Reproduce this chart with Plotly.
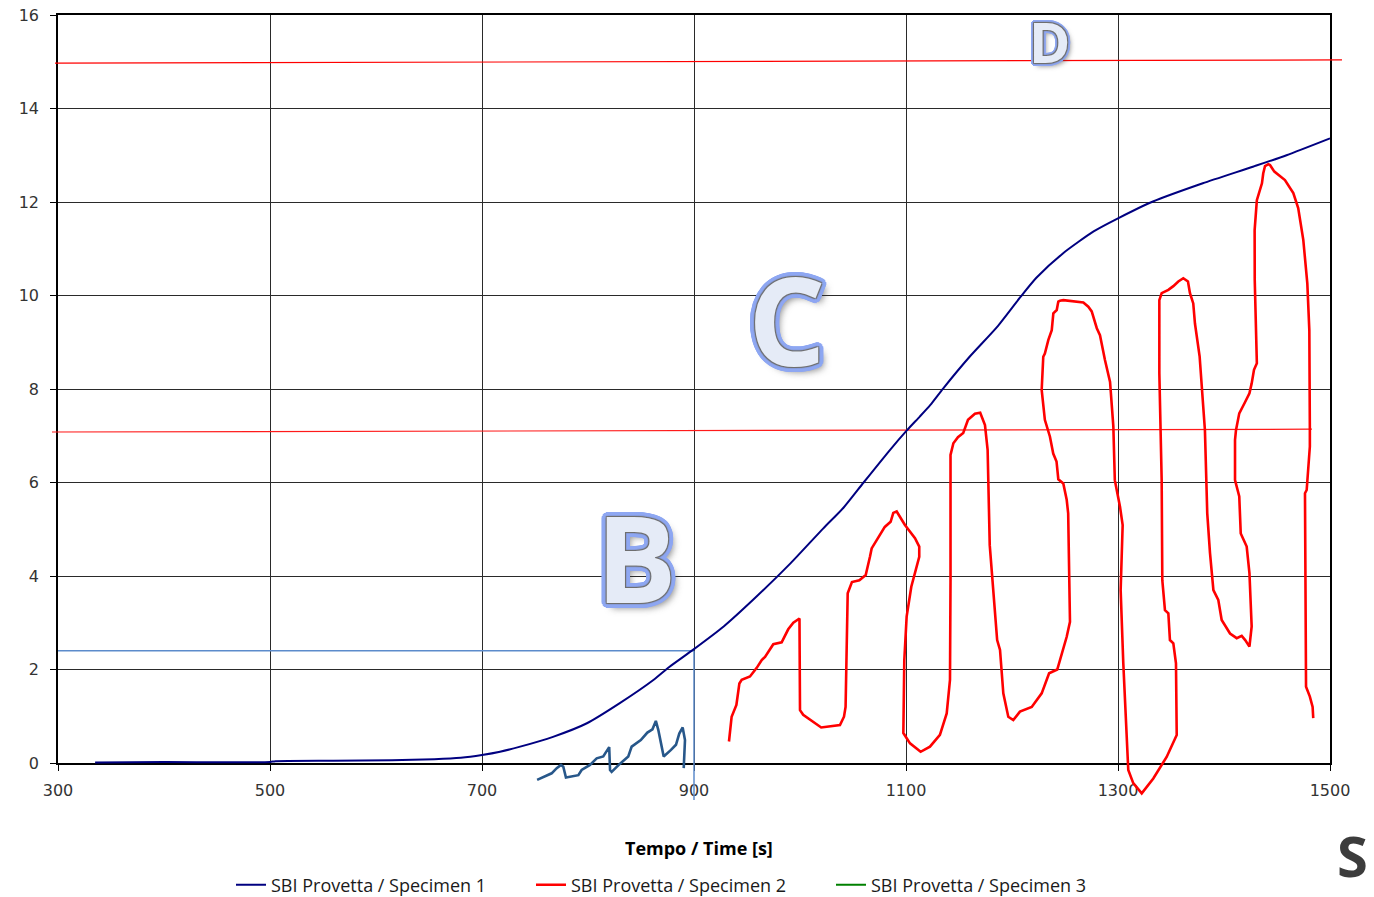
import plotly.graph_objects as go

# ---------------- data ----------------
# Specimen 1 (navy S-curve)
s1_t = [335, 400, 500, 505, 560, 615, 655, 680, 700, 717, 736, 767, 799, 830, 862, 877, 899,
        928, 959, 991, 1022, 1041, 1060, 1085, 1101, 1113, 1123, 1135, 1160, 1186, 1208, 1223,
        1248, 1277, 1300, 1333, 1380, 1428, 1459, 1500]
s1_v = [0.01, 0.02, 0.02, 0.04, 0.05, 0.06, 0.08, 0.11, 0.17, 0.24, 0.35, 0.56, 0.85, 1.28, 1.78,
        2.06, 2.42, 2.92, 3.56, 4.27, 5.02, 5.46, 6.0, 6.70, 7.12, 7.41, 7.66, 8.01, 8.69, 9.33,
        9.97, 10.38, 10.9, 11.37, 11.65, 12.01, 12.4, 12.76, 13.0, 13.36]

# Specimen 2 (red, hand-drawn looking trace)
s2_t = [933, 935.5, 940, 942.8, 945, 952.8, 959, 963.9, 967, 971.7, 974.8, 982.7, 988.9, 993.7, 999.5,
        1000, 1003, 1020, 1037.7, 1041.5, 1043, 1045, 1049, 1056, 1062, 1066, 1067.6, 1080, 1085.5,
        1088, 1090, 1091.2, 1099, 1108.5, 1112.5, 1112.5, 1105, 1100.6, 1098.4, 1098, 1097.5,
        1103.8, 1113.8, 1122.6, 1132, 1138.4, 1141.5, 1142, 1142, 1144.7, 1149, 1154, 1158.5,
        1165, 1170, 1174.5, 1177, 1179, 1182, 1186, 1188.7, 1191.8, 1196.5, 1201.2, 1207.5,
        1218.6, 1228, 1235, 1242.7, 1248.4, 1251.6, 1254.7, 1253, 1251.6, 1248.4, 1243.7, 1242,
        1238.9, 1235.8, 1231, 1228, 1229.5, 1231, 1234.3, 1237.5, 1239, 1242.2, 1243.7, 1245.3,
        1248.4, 1267.3, 1272, 1275.2, 1280, 1283, 1287.7, 1292.5, 1295.6, 1297, 1298.8, 1301.9,
        1304.4, 1302.5, 1305, 1308, 1309.7, 1314.4, 1322.4, 1333.3, 1345.9, 1355.4, 1354.7,
        1352.2, 1349, 1347.5, 1344.3, 1341.8, 1341.2, 1339, 1339, 1341.2, 1347.5, 1352.2, 1356.9,
        1361.6, 1366, 1367.9, 1371, 1372.6, 1377, 1382, 1384.2, 1386.8, 1390, 1394.6, 1397.8,
        1405.7, 1412, 1416.7, 1420, 1424, 1426.1, 1424, 1421.4, 1415.8, 1414.4, 1410.4, 1410.4,
        1411.3, 1414.4, 1419.2, 1424, 1426.1, 1428.3, 1431, 1429, 1428.9, 1431, 1435.8, 1437,
        1438.7, 1441.8, 1443.4, 1447.5, 1457.5, 1465.4, 1470, 1474.8, 1478.6, 1480.5, 1481, 1481,
        1478, 1476.4, 1477.4, 1481, 1483.6, 1484.2]
s2_v = [0.46, 0.99, 1.24, 1.70, 1.78, 1.85, 2.03, 2.2, 2.27, 2.45, 2.54, 2.58, 2.86, 3.0, 3.09,
        1.13, 1.03, 0.76, 0.81, 0.99, 1.2, 3.63, 3.87, 3.91, 4.02, 4.41, 4.59, 5.05, 5.16,
        5.35, 5.38, 5.38, 5.09, 4.81, 4.63, 4.41, 3.77, 3.13, 2.2, 1.06, 0.64,
        0.42, 0.24, 0.35, 0.6, 1.06, 1.78, 3.91, 6.59, 6.84, 6.97, 7.06, 7.34,
        7.47, 7.49, 7.23, 6.7, 4.66, 3.7, 2.63, 2.42, 1.49, 0.99, 0.92, 1.1,
        1.2, 1.49, 1.92, 2.0, 2.42, 2.7, 3.02, 5.34, 5.63, 5.98, 6.07, 6.45,
        6.62, 6.98, 7.34, 7.98, 8.69, 8.76, 9.05, 9.26, 9.62, 9.69, 9.87, 9.89,
        9.9, 9.85, 9.76, 9.66, 9.3, 9.15, 8.62, 8.15, 7.2, 6.05, 5.84, 5.48,
        5.09, 3.7, 2.13, 0.71, -0.15, -0.43, -0.65, -0.33, 0.13, 0.6, 2.13,
        2.56, 2.63, 3.2, 3.27, 3.91, 6.05, 8.34, 9.9, 10.05, 10.12, 10.2, 10.3,
        10.37, 10.3, 10.05, 9.83, 9.4, 8.7, 7.12, 5.34, 4.49, 3.7, 3.49, 3.06,
        2.77, 2.67, 2.72, 2.63, 2.49, 2.92, 4.06, 4.63, 4.91, 5.7, 6.05, 6.91,
        7.12, 7.48, 7.69, 7.91, 8.12, 8.41, 8.55, 10.33, 11.4, 12.04, 12.4, 12.61,
        12.77, 12.81, 12.79, 12.65, 12.47, 12.19, 11.87, 11.19, 10.26, 9.26, 7.12, 6.77,
        5.84, 5.77, 1.63, 1.42, 1.2, 0.96]

# Dark-blue squiggle below the navy curve
sq_t = [752, 765.7, 770.5, 774.5, 776.7, 779.2, 790.9, 794, 801.9, 808.2, 814.4, 820, 820.8, 822.3,
        830, 838, 841.2, 849.8, 856, 860.8, 864, 866.3, 868.9, 871.4, 878.3, 883, 886.1, 889.3,
        891.5, 890.3]
sq_v = [-0.36, -0.22, -0.11, -0.04, -0.08, -0.31, -0.26, -0.15, -0.04, 0.1, 0.14, 0.34, -0.15, -0.19,
        -0.02, 0.14, 0.35, 0.49, 0.65, 0.72, 0.9, 0.71, 0.42, 0.14, 0.28, 0.39, 0.63, 0.76,
        0.49, -0.11]

# Reference lines
ref_h_t = [300, 900]          # light-blue horizontal at 2.4
ref_h_v = [2.4, 2.4]
ref_v_t = [900, 900]          # light-blue vertical at 900
ref_v_v = [2.4, -0.79]
red_hi_t = [297.2, 1511.3]    # red upper line (~15)
red_hi_v = [14.97, 15.04]
red_lo_t = [294.3, 1483]      # red lower line (~7.1)
red_lo_v = [7.08, 7.14]

x_ticks = [300, 500, 700, 900, 1100, 1300, 1500]
y_ticks = [0, 2, 4, 6, 8, 10, 12, 14, 16]
X_RANGE = [300, 1500]
Y_RANGE = [0, 16]

labels = {"B": (846, 4.42), "C": (988, 9.5), "D": (1235, 15.44)}

# ---------------- layout geometry ----------------
OFF = 0                                   # page body margin (removed by post_script)
W, H = 1374 - OFF, 897 - OFF
PX0, PX1, PY0, PY1 = 58 - OFF, 1330 - OFF, 15 - OFF, 763 - OFF   # main frame (figure px)

def pxx(px):            # page pixel -> paper
    return (px - OFF) / W

def pxy(py):
    return (H - (py - OFF)) / H

dom_x = [PX0 / W, PX1 / W]
dom_y = [(H - PY1) / H, (H - PY0) / H]
ux = (PX1 - PX0) / (X_RANGE[1] - X_RANGE[0])
uy = (PY1 - PY0) / (Y_RANGE[1] - Y_RANGE[0])
x2_range = [X_RANGE[0] - PX0 / ux, X_RANGE[1] + (W - PX1) / ux]
y2_range = [Y_RANGE[0] - (H - PY1) / uy, Y_RANGE[1] + PY0 / uy]

fig = go.Figure()

def add(x, y, color, width, name=None, legend=False, shape="linear"):
    fig.add_trace(go.Scatter(x=x, y=y, mode="lines", name=name, showlegend=legend,
                             line=dict(color=color, width=width, shape=shape,
                                       smoothing=0.6 if shape == "spline" else None),
                             xaxis="x2", yaxis="y2", hoverinfo="skip"))

add(red_hi_t, red_hi_v, "#FF0000", 1.2)
add(red_lo_t, red_lo_v, "#FF1A1A", 1.2)
add(ref_h_t, ref_h_v, "#5C8BCB", 1.5)
add(ref_v_t, ref_v_v, "#5C8BCB", 1.5)
add(s1_t, s1_v, "#000080", 2, "SBI Provetta / Specimen 1", True, "spline")
add(s2_t, s2_v, "#FF0000", 2.6, "SBI Provetta / Specimen 2", True)
add([None], [None], "#008000", 2, "SBI Provetta / Specimen 3", True)
add(sq_t, sq_v, "#27578A", 2.6)

def outline(c_out, c_in, w):
    parts = []
    for dx, dy in [(1, 1), (-1, -1), (1, -1), (-1, 1)]:
        parts.append(f"{dx}px {dy}px 1px {c_in}")
    for dx in range(-w, w + 1):
        for dy in range(-w, w + 1):
            if dx * dx + dy * dy <= w * w + 1 and (dx or dy):
                parts.append(f"{dx}px {dy}px 0 {c_out}")
    parts.append(f"{w}px {w}px {w + 2}px rgba(60,60,60,0.6)")
    return ", ".join(parts)

sizes = {"B": 120, "C": 122, "D": 56}
annotations = []
for k, (tx, ty) in labels.items():
    w = 5 if k != "D" else 3
    annotations.append(dict(
        x=tx, y=ty, xref="x", yref="y", text=k, showarrow=False,
        xanchor="center", yanchor="middle",
        font=dict(family="Open Sans, sans-serif", size=sizes[k],
                  color="#E5EBF7", weight="bold", shadow=outline("#8EA7F2", "#6E6E6E", w))))

annotations.append(dict(
    x=pxx(699), y=pxy(848), xref="paper", yref="paper",
    text="Tempo / Time [s]", showarrow=False, xanchor="center", yanchor="middle",
    font=dict(family="Open Sans, sans-serif", size=18, color="#000000", weight="bold")))
annotations.append(dict(
    x=pxx(1370), y=pxy(855), xref="paper", yref="paper", text="S", showarrow=False,
    xanchor="right", yanchor="middle",
    font=dict(family="Open Sans, sans-serif", size=56, color="#3C3C3C", weight="bold")))

tickfont = dict(family="DejaVu Sans, Verdana, sans-serif", size=16, color="#333333")
fig.update_layout(
    width=W, height=H,
    margin=dict(l=0, r=0, t=0, b=0, autoexpand=False),
    paper_bgcolor="white", plot_bgcolor="rgba(0,0,0,0)",
    xaxis=dict(domain=dom_x, range=X_RANGE, tickvals=x_ticks, anchor="y",
               showgrid=True, gridcolor="#2A2A2A", gridwidth=1, zeroline=False,
               showline=True, linecolor="#000000", linewidth=1.6, mirror=True,
               ticks="outside", ticklen=6, tickcolor="#000000", tickfont=tickfont,
               ticklabelstandoff=6, automargin=False, ticklabeloverflow="allow"),
    yaxis=dict(domain=dom_y, range=Y_RANGE, tickvals=y_ticks, anchor="x",
               showgrid=True, gridcolor="#2A2A2A", gridwidth=1, zeroline=False,
               showline=True, linecolor="#000000", linewidth=1.6, mirror=True,
               ticks="outside", ticklen=6, tickcolor="#000000", tickfont=tickfont,
               ticklabelstandoff=8, automargin=False, ticklabeloverflow="allow"),
    xaxis2=dict(domain=[0, 1], range=x2_range, anchor="y2", visible=False),
    yaxis2=dict(domain=[0, 1], range=y2_range, anchor="x2", visible=False),
    showlegend=True,
    legend=dict(orientation="h", x=pxx(231), y=pxy(885), xanchor="left", yanchor="middle",
                entrywidth=255, entrywidthmode="pixels", bgcolor="rgba(0,0,0,0)",
                font=dict(family="Open Sans, sans-serif", size=18, color="#1A1A1A")),
    annotations=annotations,
)

fig.write_html("out.html", config={"displayModeBar": False},
               post_script="document.body.style.margin='0px';document.body.style.overflow='hidden';")
